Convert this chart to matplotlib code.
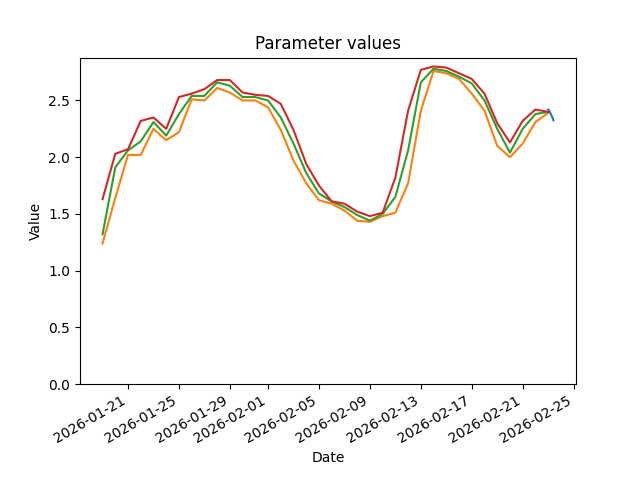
import numpy as np
import pandas as pd
import matplotlib
matplotlib.use("Agg")
import matplotlib.pyplot as plt

# daily series, 2026-01-19 .. 2026-02-23
dni = pd.date_range("2026-01-19", "2026-02-23", freq="D")

# hourly series on the last day (short blue piece)
hodiny = pd.date_range("2026-02-23 00:00", "2026-02-23 10:00", freq="h")
hodnoty_h = [2.42, 2.415, 2.41, 2.40, 2.39, 2.38, 2.37, 2.36, 2.35, 2.34, 2.325]

oranzova = [1.24, 1.64, 2.02, 2.02, 2.25, 2.15, 2.22, 2.51, 2.50, 2.61, 2.57, 2.50,
            2.50, 2.44, 2.24, 1.97, 1.77, 1.62, 1.59, 1.53, 1.44, 1.43, 1.48, 1.51,
            1.77, 2.41, 2.76, 2.74, 2.69, 2.56, 2.41, 2.10, 2.00, 2.12, 2.31, 2.39]

zelena = [1.32, 1.91, 2.06, 2.14, 2.31, 2.19, 2.38, 2.54, 2.54, 2.66, 2.63, 2.53,
          2.53, 2.50, 2.35, 2.12, 1.86, 1.68, 1.61, 1.56, 1.49, 1.44, 1.50, 1.65,
          2.06, 2.66, 2.78, 2.76, 2.71, 2.65, 2.50, 2.25, 2.04, 2.25, 2.38, 2.40]

cervena = [1.63, 2.03, 2.07, 2.32, 2.35, 2.25, 2.53, 2.56, 2.60, 2.68, 2.68, 2.57,
           2.55, 2.54, 2.47, 2.24, 1.94, 1.75, 1.61, 1.59, 1.52, 1.48, 1.51, 1.82,
           2.41, 2.77, 2.80, 2.79, 2.74, 2.69, 2.56, 2.30, 2.13, 2.32, 2.42, 2.40]

fig, ax = plt.subplots(figsize=(6.4, 4.8), dpi=100)

ax.plot(hodiny, hodnoty_h, color="tab:blue")
ax.plot(dni, oranzova, color="tab:orange")
ax.plot(dni, zelena, color="tab:green")
ax.plot(dni, cervena, color="tab:red")

ax.set_ylim(bottom=0)
ax.set_title("Parameter values")
ax.set_xlabel("Date")
ax.set_ylabel("Value")
fig.autofmt_xdate()

fig.savefig("out.png")
